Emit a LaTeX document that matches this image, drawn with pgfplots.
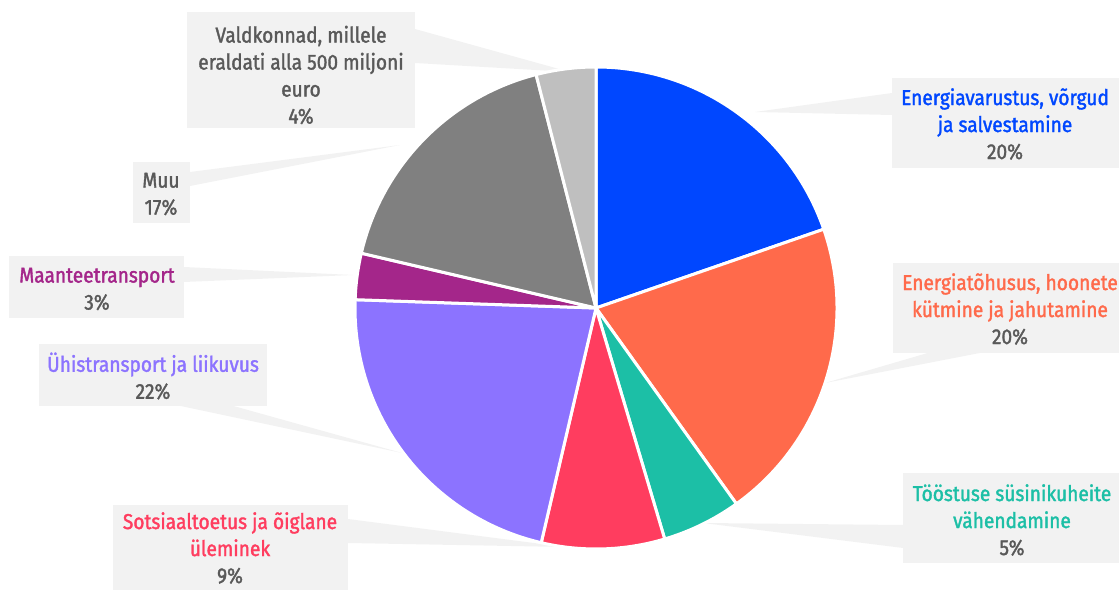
\documentclass[border=0pt]{standalone}
\usepackage{pgfplots}
\pgfplotsset{compat=1.18}
\usepackage{fontspec}
\setmainfont{Fira Sans}[FakeStretch=0.89, FakeBold=1.6]
\definecolor{c1}{HTML}{0047FF}
\definecolor{c2}{HTML}{FF6A4B}
\definecolor{c3}{HTML}{1CBFA6}
\definecolor{c4}{HTML}{FF3D5F}
\definecolor{c5}{HTML}{8C73FF}
\definecolor{c6}{HTML}{A4268A}
\definecolor{c7}{HTML}{808080}
\definecolor{c8}{HTML}{BFBFBF}
\definecolor{tg}{HTML}{595959}
\definecolor{bx}{HTML}{F2F2F2}
\tikzset{lab/.style={align=center, inner sep=0pt, font=\fontsize{21.5}{27}\selectfont},
  slice/.style={draw=white, line width=3pt, line join=round}}
\begin{document}
\begin{tikzpicture}
\useasboundingbox (0,0) rectangle (1119pt,589pt);
\begin{axis}[at={(0,0)}, anchor=south west, scale only axis, width=1119pt, height=589pt,
  xmin=0, xmax=1119, ymin=0, ymax=589, hide axis, clip=false]
% callout wedges (y = 589 - pixel row)
\fill[bx] (axis cs:415,560) -- (axis cs:415,526) -- (axis cs:570,517) -- cycle;
\fill[bx] (axis cs:892,496) -- (axis cs:892,474) -- (axis cs:755,477) -- cycle;
\fill[bx] (axis cs:931,237) -- (axis cs:985,237) -- (axis cs:825,206) -- cycle;
\fill[bx] (axis cs:903,64) -- (axis cs:903,41) -- (axis cs:703,66) -- cycle;
\fill[bx] (axis cs:348,70) -- (axis cs:348,46) -- (axis cs:565,42) -- cycle;
\fill[bx] (axis cs:176,184) -- (axis cs:230,184) -- (axis cs:402,136) -- cycle;
\fill[bx] (axis cs:184,322) -- (axis cs:184,307) -- (axis cs:353,314) -- cycle;
\fill[bx] (axis cs:190,417) -- (axis cs:190,403) -- (axis cs:400,444) -- cycle;
% boxes
\fill[bx] (axis cs:187,577) rectangle (axis cs:415,461);
\fill[bx] (axis cs:892,511) rectangle (axis cs:1125,421);
\fill[bx] (axis cs:893,326) rectangle (axis cs:1125,236);
\fill[bx] (axis cs:903,116) rectangle (axis cs:1125,26);
\fill[bx] (axis cs:113,84) rectangle (axis cs:348,-6);
\fill[bx] (axis cs:133,427) rectangle (axis cs:190,366);
\fill[bx] (axis cs:9,333) rectangle (axis cs:184,271);
\fill[bx] (axis cs:39,245) rectangle (axis cs:267,183);
% pie: shares (percent) 19.7, 20.4, 5.3, 8.25, 21.9, 3.1, 17.35, 4.0 ; angle = 3.6*share, clockwise from 90
\fill[c1,slice] (axis cs:596,281) -- ++(90:241pt) arc[start angle=90, end angle={90-3.6*19.7}, radius=241pt] -- cycle;
\fill[c2,slice] (axis cs:596,281) -- ++(19.08:241pt) arc[start angle=19.08, end angle={19.08-3.6*20.4}, radius=241pt] -- cycle;
\fill[c3,slice] (axis cs:596,281) -- ++(-54.36:241pt) arc[start angle=-54.36, end angle={-54.36-3.6*5.3}, radius=241pt] -- cycle;
\fill[c4,slice] (axis cs:596,281) -- ++(-73.44:241pt) arc[start angle=-73.44, end angle={-73.44-3.6*8.25}, radius=241pt] -- cycle;
\fill[c5,slice] (axis cs:596,281) -- ++(-103.14:241pt) arc[start angle=-103.14, end angle={-103.14-3.6*21.9}, radius=241pt] -- cycle;
\fill[c6,slice] (axis cs:596,281) -- ++(-181.98:241pt) arc[start angle=-181.98, end angle={-181.98-3.6*3.1}, radius=241pt] -- cycle;
\fill[c7,slice] (axis cs:596,281) -- ++(-193.14:241pt) arc[start angle=-193.14, end angle={-193.14-3.6*17.35}, radius=241pt] -- cycle;
\fill[c8,slice] (axis cs:596,281) -- ++(-255.6:241pt) arc[start angle=-255.6, end angle={-255.6-3.6*4.0}, radius=241pt] -- cycle;
% labels
\node[lab, text=tg] at (axis cs:301,514) {Valdkonnad, millele\\eraldati alla 500 miljoni\\euro\\4\%};
\node[lab, text=c1] at (axis cs:1005,465) {Energiavarustus, võrgud\\ja salvestamine\\\textcolor{tg}{20\%}};
\node[lab, text=c2] at (axis cs:1010,280) {Energiatõhusus, hoonete\\kütmine ja jahutamine\\\textcolor{tg}{20\%}};
\node[lab, text=c3] at (axis cs:1012,69) {Tööstuse süsinikuheite\\vähendamine\\\textcolor{tg}{5\%}};
\node[lab, text=c4] at (axis cs:230,41) {Sotsiaaltoetus ja õiglane\\üleminek\\\textcolor{tg}{9\%}};
\node[lab, text=tg] at (axis cs:161,395) {Muu\\17\%};
\node[lab, text=c6] at (axis cs:97,300) {Maanteetransport\\\textcolor{tg}{3\%}};
\node[lab, text=c5] at (axis cs:153,213) {Ühistransport ja liikuvus\\\textcolor{tg}{22\%}};
\end{axis}
\end{tikzpicture}
\end{document}
